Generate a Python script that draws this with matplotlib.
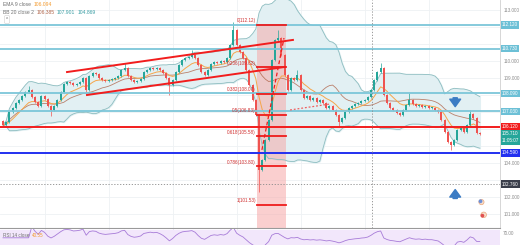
"""USD/JPY style chart: candles, BB 20, EMA 9, fib retracement, RSI pane"""
import matplotlib
matplotlib.use("Agg")
import matplotlib.pyplot as plt
import matplotlib.transforms as mtransforms
import numpy as np
import pandas as pd

plt.rcParams["font.family"] = ["Liberation Sans", "DejaVu Sans"]

# ---- data ----
CLOSES = [
    106.24, 106.41, 107.00, 107.24, 107.53, 107.71, 107.94, 108.18, 108.29, 107.88,
    107.59, 107.35, 107.94, 107.76, 107.35, 107.12, 107.35, 107.71, 108.18, 108.65,
    108.76, 108.71, 108.59, 108.65, 108.76, 109.00, 108.29, 109.12, 109.29, 109.24,
    109.00, 108.88, 108.82, 108.88, 108.94, 109.00, 109.12, 109.47, 109.59, 109.12,
    108.88, 108.76, 108.82, 108.94, 109.35, 109.47, 109.59, 109.53, 109.59, 109.47,
    109.29, 109.00, 108.59, 108.88, 109.35, 109.76, 110.06, 110.18, 110.24, 110.35,
    110.18, 109.76, 109.35, 109.18, 109.47, 109.82, 109.94, 109.88, 110.00, 109.94,
    110.18, 110.94, 111.82, 110.94, 110.53, 110.18, 109.47, 108.59, 107.71, 106.82,
    103.59, 104.18, 105.35, 106.53, 110.06, 111.24, 111.35, 110.35, 109.18, 108.29,
    109.00, 108.88, 109.18, 108.29, 107.82, 107.94, 107.71, 107.82, 107.59, 107.71,
    107.53, 107.24, 107.35, 107.12, 106.82, 106.41, 106.65, 107.00, 107.24, 107.35,
    107.47, 107.53, 107.65, 107.71, 107.88, 108.29, 108.88, 109.35, 109.59, 108.00,
    107.53, 107.24, 107.12, 106.94, 106.82, 107.12, 107.41, 107.71, 107.47, 107.35,
    107.41, 107.29, 107.35, 107.24, 107.24, 107.12, 107.00, 106.53, 105.82, 105.23,
    105.06, 105.35, 105.94, 106.06, 105.82, 106.24, 106.88, 106.65, 105.76, 105.71,
]
FIRST_OPEN = 106.45
HIGH_WICKS = {8: 108.53, 38: 109.88, 59: 110.65, 72: 112.29, 86: 111.82,
              92: 109.47, 118: 109.88, 127: 108.12, 146: 107.10}
LOW_WICKS = {15: 106.76, 26: 108.00, 52: 108.00, 80: 102.29, 105: 106.12,
             140: 104.76}

CYAN_LEVELS = [112.12, 110.73, 108.09, 107.03]
RED_LEVEL = 106.12
BLUE_LEVEL = 104.59
CROSS_PRICE = 102.76
CROSS_BAR = 115.3
COUNTDOWN = "11:05:07"

CHANNEL_UPPER = ([20.0, 90.6], [109.35, 111.24])
CHANNEL_LOWER = ([26.25, 88.1], [108.00, 109.65])
DASH_UP = ([80.9, 87.8], [104.77, 111.35])
DASH_FLAT = ([89.7, 102.2], [107.12, 107.47])

FIB_TOP, FIB_BOTTOM = 112.12, 101.53
FIB_RATIOS = [0, 0.236, 0.382, 0.5, 0.618, 0.786, 1]
FIB_BARS = (79.4, 88.4)

PRICE_TICKS = list(range(101, 114))

W, H = 520, 245
GREEN, RED = "#26a69a", "#ef5350"

closes = pd.Series(CLOSES)
n = len(closes)
idx = np.arange(n)
opens = closes.shift(1).fillna(FIRST_OPEN)
body_hi = np.maximum(opens, closes)
body_lo = np.minimum(opens, closes)
highs = body_hi + 0.08
lows = body_lo - 0.08
for k, v in HIGH_WICKS.items():
    highs[k] = v
for k, v in LOW_WICKS.items():
    lows[k] = v

ema9 = closes.ewm(span=9, adjust=False).mean()
basis = closes.rolling(20, min_periods=1).mean()
std = closes.rolling(20, min_periods=1).std(ddof=0)
upper, lower = basis + 2 * std, basis - 2 * std

delta = closes.diff().fillna(0)
gain = delta.clip(lower=0).ewm(alpha=1 / 14, adjust=False).mean()
loss = (-delta.clip(upper=0)).ewm(alpha=1 / 14, adjust=False).mean()
rsi = 100 - 100 / (1 + gain / loss.replace(0, np.nan))
rsi = rsi.fillna(50)

fig = plt.figure(figsize=(W / 100, H / 100), dpi=100)
renderer = fig.canvas.get_renderer()


def px_axes(x0, y0, x1, y1):
    return fig.add_axes([x0 / W, 1 - y1 / H, (x1 - x0) / W, (y1 - y0) / H])


def chain(x, y, parts, size=3.6):
    """texts one after the other on a row, in pixels from top-left"""
    for txt, col in parts:
        t = fig.text(x / W, 1 - y / H, txt, fontsize=size, color=col, va="center")
        x += t.get_window_extent(renderer).width + 2.5


ax = px_axes(0, 0, 500, 228)
rax = px_axes(0, 229, 500, 245)
xlim = (-0.94, 155.3)
ax.set_xlim(*xlim)
ax.set_ylim(100.176, 113.588)

for a in (ax, rax):
    for s in a.spines.values():
        s.set_visible(False)
    a.set_xticks([])
    a.set_facecolor("white")
ax.spines["right"].set_visible(True)
ax.spines["right"].set_color("#d0d0d0")
ax.spines["right"].set_linewidth(0.6)
ax.spines["bottom"].set_visible(True)
ax.spines["bottom"].set_color("#9a9a9a")
ax.spines["bottom"].set_linewidth(0.8)

# grid
for p in PRICE_TICKS:
    ax.axhline(p, color="#eef1f4", lw=0.6, zorder=0)
for g in range(13, n, 20):
    ax.axvline(g, color="#eef1f4", lw=0.6, zorder=0)
    rax.axvline(g, color="#e6dcef", lw=0.6, zorder=0)

# Bollinger bands + EMA
ax.fill_between(idx, lower, upper, color="#e2f0f3", zorder=1)
ax.plot(idx, upper, color="#8dbdc0", lw=0.6, zorder=2)
ax.plot(idx, lower, color="#8dbdc0", lw=0.6, zorder=2)
ax.plot(idx, basis, color="#b0654a", lw=0.6, alpha=0.8, zorder=2)
ax.plot(idx, ema9, color="#f6a54a", lw=0.7, zorder=2)

# fib shaded block
ylo = ax.get_ylim()[0]
ax.fill_between(FIB_BARS, ylo, FIB_TOP, color="#f6a9a9", alpha=0.55, lw=0, zorder=1.5)

# candles
colors = np.where(closes >= opens, GREEN, RED)
ax.vlines(idx, lows, highs, colors=colors, lw=0.5, zorder=3)
ax.bar(idx, np.maximum(body_hi - body_lo, 0.03), bottom=body_lo, width=0.62,
       color=colors, lw=0, zorder=4)

# horizontal levels
for p in CYAN_LEVELS:
    ax.axhline(p, color="#7cc6d9", lw=1.3, zorder=5)
ax.axhline(RED_LEVEL, color="#f21d1d", lw=1.4, zorder=5)
ax.axhline(BLUE_LEVEL, color="#2230f0", lw=1.4, zorder=5)
ax.axhline(CROSS_PRICE, color="#8a8a8a", lw=0.6, ls=(0, (1.5, 2)), zorder=5)
ax.axvline(CROSS_BAR, color="#8a8a8a", lw=0.6, ls=(0, (1.5, 2)), zorder=5)

# channel + dashed helper lines
ax.plot(*CHANNEL_UPPER, color="#f21d1d", lw=1.4, zorder=6)
ax.plot(*CHANNEL_LOWER, color="#f21d1d", lw=1.4, zorder=6)
ax.plot(*DASH_UP, color="#f21d1d", lw=0.9, ls=(0, (3, 2)), zorder=6)
ax.plot(*DASH_FLAT, color="#f06060", lw=0.9, ls=(0, (1.5, 1.5)), zorder=6)

# fib lines + labels
for r in FIB_RATIOS:
    v = FIB_TOP - r * (FIB_TOP - FIB_BOTTOM)
    ax.plot(FIB_BARS, [v, v], color="#ee1c1c", lw=1.3, zorder=6)
    ax.text(FIB_BARS[0] - 0.4, v + 0.1, f"{r:g}({v:.2f})", fontsize=3.3,
            color="#d03030", ha="right", va="bottom", zorder=7)

# arrows
arrow = dict(arrowstyle="simple,head_width=1.3,head_length=0.9,tail_width=0.5",
             color="#3c7cc4", mutation_scale=6)
ax.annotate("", xy=(141.3, 107.15), xytext=(141.3, 108.0), arrowprops=arrow, zorder=7)
ax.annotate("", xy=(141.3, 102.6), xytext=(141.3, 101.75), arrowprops=arrow, zorder=7)

# event icons
ax.scatter([149.5, 150.2], [101.7, 100.95], s=[14, 16], color="#f6dcc9",
           edgecolors="#e9a77c", linewidths=0.5, zorder=7)
ax.scatter([149.2, 149.8], [101.75, 100.9], s=3, color=["#6d8fd6", "#e05050"], zorder=8)

# right price axis: boxes hide the tick labels they sit on
boxes = [(p, f"{p:.3f}", "#6cc0d6") for p in CYAN_LEVELS]
boxes += [(RED_LEVEL, f"{RED_LEVEL:.3f}", "#f21d1d"),
          (CLOSES[-1], f"{CLOSES[-1]:.3f}", GREEN),
          (CLOSES[-1] - 0.41, COUNTDOWN, GREEN),
          (BLUE_LEVEL, f"{BLUE_LEVEL:.3f}", "#2230f0"),
          (CROSS_PRICE, f"{CROSS_PRICE:.3f}", "#3a3e4a")]
shown = [p for p in PRICE_TICKS if all(abs(p - b[0]) > 0.45 for b in boxes)]

ax.yaxis.tick_right()
ax.set_yticks(shown)
ax.set_yticklabels([f"{p:.3f}" for p in shown])
ax.tick_params(axis="y", length=0, pad=2.5, labelsize=3.3, labelcolor="#8c8c8c")

trans = mtransforms.blended_transform_factory(ax.transAxes, ax.transData)
for price, text, fc in boxes:
    ax.text(1.004, price, text, transform=trans, fontsize=3.3, color="white",
            ha="left", va="center", clip_on=False, zorder=10,
            bbox=dict(boxstyle="square,pad=0.25", fc=fc, ec="none"))

# legend texts
chain(3, 5, [("EMA 9 close", "#707070"), (f"{ema9.iloc[-1]:.3f}", "#f39a2e")])
chain(3, 13, [("BB 20 close 2", "#707070"), (f"{basis.iloc[-1]:.3f}", "#b0654a"),
              (f"{upper.iloc[-1]:.3f}", "#3a9ea4"), (f"{lower.iloc[-1]:.3f}", "#3a9ea4")])
fig.text(7 / W, 1 - 19.5 / H, "^", fontsize=3.3, color="#606060", ha="center", va="center",
         bbox=dict(boxstyle="round,pad=0.35", fc="white", ec="#d0d0d0", lw=0.4))

# RSI pane
rax.set_xlim(*xlim)
rax.set_ylim(32, 72)
rax.set_yticks([])
rax.axhspan(30, 70, color="#f2e7fb", zorder=0)
rax.plot(idx, rsi, color="#a77bd8", lw=0.6, zorder=2)
chain(3, 235, [("RSI 14 close", "#707070"), (f"{rsi.iloc[-1]:.2f}", "#f39a2e")], size=3.3)
fig.text(503 / W, 1 - 233 / H, "70.00", fontsize=3.3, color="#8c8c8c", va="center")

fig.savefig("out.png", dpi=100)
